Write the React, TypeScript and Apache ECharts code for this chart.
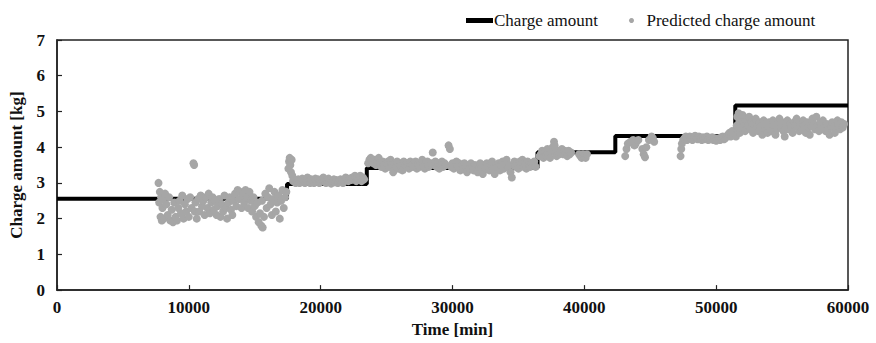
import React, { useEffect, useRef } from "react";
import * as echarts from "echarts";

// Measured charge amount: level changes at these times [min]
const stepTimes = [0, 17450, 23500, 36450, 42350, 51450, 60000];
const stepValues = [2.56, 2.97, 3.42, 3.86, 4.31, 5.17, 5.17];

// Predicted charge amount [time (min), amount (kg)] by operating period
const predictedPeriod1 = [
  [7700, 3.0], [7750, 2.45], [7800, 2.75], [7850, 2.05], [7900, 2.6], [7950, 1.95], [8000, 2.3],
  [8050, 2.55], [8100, 2.0], [8200, 2.7], [8300, 2.4], [8400, 2.1], [8500, 2.6], [8600, 1.95],
  [8700, 2.25], [8800, 1.9], [8900, 2.45], [9000, 2.05], [9100, 1.95], [9200, 2.3], [9300, 2.5],
  [9400, 2.15], [9500, 2.65], [9600, 2.0], [9700, 2.4], [9800, 2.2], [9900, 2.55], [10000, 2.05],
  [10100, 2.6], [10200, 2.3], [10350, 3.55], [10400, 3.5], [10450, 2.2], [10500, 2.45], [10600, 2.0],
  [10700, 2.55], [10800, 2.2], [10900, 2.65], [11000, 2.35], [11100, 2.5], [11200, 2.1], [11300, 2.6],
  [11400, 2.3], [11500, 2.7], [11600, 2.15], [11700, 2.45], [11800, 2.6], [11900, 2.25], [12000, 2.5],
  [12100, 2.1], [12200, 2.35], [12300, 2.55], [12400, 2.05], [12500, 2.4], [12600, 2.2], [12700, 2.65],
  [12800, 2.3], [12900, 2.0], [13000, 2.45], [13100, 2.6], [13200, 2.25], [13300, 2.1], [13400, 2.5],
  [13500, 2.7], [13600, 2.35], [13700, 2.8], [13800, 2.55], [13900, 2.75], [14000, 2.3], [14100, 2.65],
  [14200, 2.45], [14300, 2.8], [14400, 2.6], [14500, 2.3], [14600, 2.75], [14700, 2.5], [14800, 2.2],
  [14900, 2.6], [15000, 2.35], [15100, 2.05], [15200, 2.45], [15300, 1.9], [15400, 2.15], [15500, 1.8],
  [15550, 2.5], [15600, 1.75], [15700, 2.05], [15800, 2.7], [15900, 2.3], [16000, 2.6], [16100, 2.85],
  [16200, 2.4], [16300, 2.1], [16400, 2.55], [16500, 2.75], [16600, 2.2], [16700, 2.45], [16800, 2.65],
  [16900, 2.0], [17000, 2.5], [17100, 2.8], [17200, 2.3], [17300, 2.6], [17400, 2.75],
];

const predictedPeriod2 = [
  [17550, 3.4], [17600, 3.6], [17650, 3.7], [17700, 3.5], [17750, 3.3], [17800, 3.65], [17850, 3.2],
  [17900, 3.05], [18000, 3.1], [18100, 3.0], [18200, 3.05], [18300, 3.1], [18400, 3.0], [18500, 3.08],
  [18600, 3.12], [18700, 3.05], [18800, 3.0], [18900, 3.1], [19000, 3.15], [19100, 3.05], [19200, 3.0],
  [19300, 3.1], [19400, 3.08], [19500, 3.0], [19600, 3.12], [19700, 3.05], [19800, 3.1], [19900, 3.0],
  [20000, 3.05], [20100, 3.1], [20200, 3.15], [20300, 3.05], [20400, 3.0], [20500, 3.08], [20600, 3.12],
  [20700, 3.05], [20800, 2.98], [20900, 3.05], [21000, 3.1], [21100, 3.02], [21200, 3.08], [21300, 3.0],
  [21400, 3.05], [21500, 3.1], [21600, 3.02], [21700, 3.0], [21800, 3.08], [21900, 3.15], [22000, 3.1],
  [22100, 3.05], [22200, 3.12], [22300, 3.08], [22400, 3.15], [22500, 3.1], [22600, 3.2], [22700, 3.05],
  [22800, 3.15], [22900, 3.1], [23000, 3.2], [23100, 3.05], [23200, 3.15], [23300, 3.1],
];

const predictedPeriod3 = [
  [23600, 3.55], [23700, 3.65], [23800, 3.7], [23900, 3.6], [24000, 3.55], [24100, 3.65], [24200, 3.5],
  [24300, 3.6], [24400, 3.7], [24500, 3.55], [24600, 3.45], [24700, 3.6], [24800, 3.5], [24900, 3.4],
  [25000, 3.55], [25100, 3.6], [25200, 3.45], [25300, 3.65], [25400, 3.5], [25500, 3.3], [25600, 3.55],
  [25700, 3.45], [25800, 3.6], [25900, 3.4], [26000, 3.5], [26100, 3.55], [26200, 3.35], [26300, 3.6],
  [26400, 3.45], [26500, 3.5], [26600, 3.55], [26700, 3.4], [26800, 3.6], [26900, 3.5], [27000, 3.45],
  [27100, 3.55], [27200, 3.6], [27300, 3.4], [27400, 3.5], [27500, 3.45], [27600, 3.55], [27700, 3.65],
  [27800, 3.5], [27900, 3.4], [28000, 3.55], [28100, 3.6], [28200, 3.45], [28300, 3.5], [28400, 3.55],
  [28500, 3.85], [28600, 3.5], [28700, 3.6], [28800, 3.45], [28900, 3.55], [29000, 3.4], [29100, 3.5],
  [29200, 3.6], [29300, 3.45], [29400, 3.55], [29500, 3.5], [29700, 4.05], [29800, 3.95], [29900, 3.45],
  [30000, 3.55], [30100, 3.4], [30200, 3.5], [30300, 3.6], [30400, 3.45], [30500, 3.55], [30600, 3.35],
  [30700, 3.5], [30800, 3.4], [30900, 3.55], [31000, 3.45], [31100, 3.3], [31200, 3.5], [31300, 3.4],
  [31400, 3.55], [31500, 3.45], [31600, 3.35], [31700, 3.5], [31800, 3.4], [31900, 3.3], [32000, 3.45],
  [32100, 3.55], [32200, 3.4], [32300, 3.25], [32400, 3.5], [32500, 3.4], [32600, 3.55], [32700, 3.45],
  [32800, 3.35], [32900, 3.5], [33000, 3.6], [33100, 3.4], [33200, 3.25], [33300, 3.5], [33400, 3.45],
  [33500, 3.55], [33600, 3.35], [33700, 3.5], [33800, 3.6], [33900, 3.4], [34000, 3.55], [34100, 3.65],
  [34200, 3.45], [34300, 3.5], [34400, 3.3], [34500, 3.15], [34600, 3.5], [34700, 3.6], [34800, 3.45],
  [34900, 3.55], [35000, 3.4], [35100, 3.6], [35200, 3.5], [35300, 3.65], [35400, 3.45], [35500, 3.55],
  [35600, 3.4], [35700, 3.6], [35800, 3.5], [35900, 3.45], [36000, 3.55], [36100, 3.5], [36200, 3.6],
  [36300, 3.45],
];

const predictedPeriod4 = [
  [36600, 3.75], [36700, 3.8], [36800, 3.9], [36900, 3.7], [37000, 3.85], [37100, 3.75], [37200, 3.95],
  [37300, 3.8], [37400, 3.7], [37500, 3.9], [37600, 4.0], [37700, 4.15], [37750, 4.05], [37800, 3.85],
  [37900, 3.75], [38000, 3.9], [38100, 3.8], [38200, 3.85], [38300, 3.95], [38400, 3.8], [38500, 3.9],
  [38600, 3.85], [38700, 3.75], [38800, 3.9], [38900, 3.8], [39000, 3.85], [39600, 3.8], [39700, 3.75],
  [39800, 3.7], [39900, 3.8], [40000, 3.75], [40100, 3.7], [40200, 3.8],
];

const predictedPeriod5 = [
  [43100, 3.75], [43200, 3.95], [43300, 4.1], [43500, 4.15], [43700, 4.2], [43800, 4.05], [43900, 4.1],
  [44100, 4.2], [44400, 3.95], [44500, 3.8], [44600, 3.72], [44700, 4.0], [44900, 4.2], [45100, 4.3],
  [45200, 4.25], [45300, 4.15],
  [47300, 3.75], [47350, 3.95], [47400, 4.1], [47500, 4.2], [47600, 4.25], [47700, 4.3], [47800, 4.2],
  [47900, 4.25], [48000, 4.3], [48100, 4.25], [48200, 4.2], [48300, 4.28], [48400, 4.32], [48500, 4.25],
  [48600, 4.22], [48700, 4.3], [48800, 4.25], [48900, 4.2], [49000, 4.28], [49100, 4.22], [49200, 4.25],
  [49300, 4.3], [49400, 4.2], [49500, 4.25], [49600, 4.22], [49700, 4.28], [49800, 4.2], [49900, 4.25],
  [50000, 4.18], [50100, 4.22], [50200, 4.25], [50300, 4.2], [50400, 4.28], [50500, 4.3], [50600, 4.22],
  [50700, 4.25], [50800, 4.3], [50900, 4.35], [51000, 4.4], [51100, 4.3], [51200, 4.45], [51300, 4.35],
];

const predictedPeriod6 = [
  [51500, 4.3], [51550, 4.6], [51600, 4.85], [51650, 4.45], [51700, 4.95], [51750, 4.7], [51800, 4.4],
  [51850, 4.8], [51900, 4.55], [52000, 4.9], [52100, 4.65], [52200, 4.45], [52300, 4.75], [52400, 4.6],
  [52500, 4.85], [52600, 4.5], [52700, 4.7], [52800, 4.4], [52900, 4.65], [53000, 4.8], [53100, 4.55],
  [53200, 4.45], [53300, 4.7], [53400, 4.6], [53500, 4.35], [53600, 4.75], [53700, 4.5], [53800, 4.65],
  [53900, 4.4], [54000, 4.7], [54100, 4.55], [54200, 4.45], [54300, 4.75], [54400, 4.6], [54500, 4.35],
  [54600, 4.5], [54700, 4.65], [54800, 4.8], [54900, 4.55], [55000, 4.7], [55100, 4.45], [55200, 4.3],
  [55300, 4.6], [55400, 4.75], [55500, 4.5], [55600, 4.65], [55700, 4.55], [55800, 4.4], [55900, 4.7],
  [56000, 4.6], [56100, 4.8], [56200, 4.55], [56300, 4.45], [56400, 4.65], [56500, 4.5], [56600, 4.75],
  [56700, 4.6], [56800, 4.4], [56900, 4.7], [57000, 4.55], [57100, 4.35], [57200, 4.6], [57300, 4.8],
  [57400, 4.65], [57500, 4.5], [57600, 4.85], [57700, 4.6], [57800, 4.45], [57900, 4.7], [58000, 4.55],
  [58100, 4.75], [58200, 4.6], [58300, 4.45], [58400, 4.65], [58500, 4.5], [58600, 4.35], [58700, 4.6],
  [58800, 4.7], [58900, 4.55], [59000, 4.4], [59100, 4.65], [59200, 4.75], [59300, 4.6], [59400, 4.5],
  [59500, 4.7], [59600, 4.55], [59700, 4.65],
];

const xTicks = { min: 0, max: 60000, interval: 10000 };
const yTicks = { min: 0, max: 7, interval: 1 };

const FONT = '"Liberation Serif", "Times New Roman", serif';

export default function App() {
  const ref = useRef<HTMLDivElement>(null);

  useEffect(() => {
    if (!ref.current) return;
    const chart = echarts.init(ref.current, null, { renderer: "svg" });

    const stepData = stepTimes.map((t, i) => [t, stepValues[i]]);
    const predicted = [
      ...predictedPeriod1,
      ...predictedPeriod2,
      ...predictedPeriod3,
      ...predictedPeriod4,
      ...predictedPeriod5,
      ...predictedPeriod6,
    ];

    const axisCommon = {
      axisLine: { show: true, lineStyle: { color: "#222", width: 1.5 } },
      axisTick: { show: true, inside: true, length: 5, lineStyle: { color: "#222", width: 1.2 } },
      splitLine: { show: false },
      nameTextStyle: { fontFamily: FONT, fontSize: 17, fontWeight: "bold", color: "#111" },
    };

    const tickLabel = {
      fontFamily: FONT,
      fontSize: 17,
      fontWeight: "bold",
      color: "#111",
      formatter: (v: number) => String(v),
    };

    const legendText = { fontFamily: FONT, fontSize: 17, color: "#111" };

    chart.setOption({
      animation: false,
      backgroundColor: "#fff",
      textStyle: { fontFamily: FONT },
      grid: {
        left: 57,
        right: 28,
        top: 40,
        bottom: 49,
        show: true,
        borderColor: "#222",
        borderWidth: 1.5,
        backgroundColor: "transparent",
      },
      legend: [
        {
          left: 461,
          top: 7,
          itemWidth: 27,
          itemHeight: 5,
          textStyle: { ...legendText, padding: [0, 0, 0, -4] },
          data: [{ name: "Charge amount", icon: "rect", itemStyle: { color: "#000" } }],
        },
        {
          left: 624,
          top: 7,
          itemWidth: 12,
          itemHeight: 5,
          textStyle: { ...legendText, padding: [0, 0, 0, 4] },
          data: [{ name: "Predicted charge amount", icon: "circle" }],
        },
      ],
      xAxis: {
        type: "value",
        ...xTicks,
        ...axisCommon,
        name: "Time [min]",
        nameLocation: "middle",
        nameGap: 29,
        axisLabel: { ...tickLabel, margin: 9, showMinLabel: true, showMaxLabel: true },
      },
      yAxis: {
        type: "value",
        ...yTicks,
        ...axisCommon,
        name: "Charge amount [kg]",
        nameLocation: "middle",
        nameGap: 32,
        axisLabel: { ...tickLabel, margin: 12 },
      },
      series: [
        {
          name: "Charge amount",
          type: "line",
          step: "end",
          data: stepData,
          showSymbol: false,
          symbol: "none",
          color: "#000",
          lineStyle: { color: "#000", width: 4 },
          z: 2,
        },
        {
          name: "Predicted charge amount",
          type: "scatter",
          data: predicted,
          symbol: "circle",
          symbolSize: 8,
          itemStyle: { color: "#a6a6a6", opacity: 1 },
          z: 3,
        },
      ],
    });

    return () => chart.dispose();
  }, []);

  return (
    <div
      ref={ref}
      style={{ position: "absolute", left: 0, top: 0, width: 876, height: 343 }}
    />
  );
}
